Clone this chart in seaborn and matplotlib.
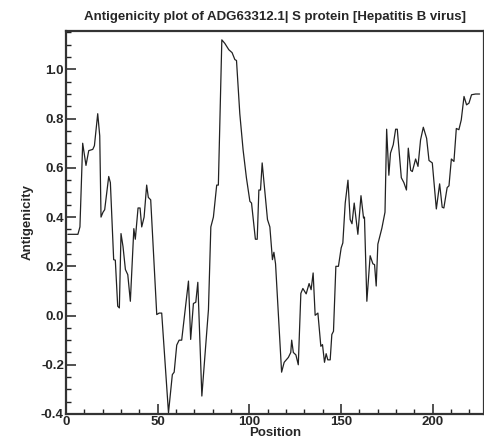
"""Antigenicity plot of HBV S protein, redrawn with seaborn"""
import numpy as np
import pandas as pd
import matplotlib
matplotlib.use("Agg")
import matplotlib.pyplot as plt
from matplotlib.ticker import MultipleLocator
import seaborn as sns

TITLE = "Antigenicity plot of ADG63312.1| S protein [Hepatitis B virus]"

# values (position, antigenicity)
position = [
    1, 6.5, 7.6, 9.1, 10.9, 12.4, 14.6, 15.5, 17.3, 18.4,
    19.1, 20.2, 21.1, 23.3, 24.2, 26, 26.9, 28.2, 29.1, 30,
    31.1, 32.4, 33.7, 35.1, 37, 37.8, 39.3, 40.4, 41.3, 42.6,
    44, 44.9, 46.2, 49.5, 50.8, 52.2, 55.9, 58, 59, 60.4,
    61.7, 63.1, 66.8, 68, 69.5, 70.8, 71.9, 74.1, 77.7, 79,
    80.4, 82.2, 83.1, 85, 86.6, 88.8, 90.6, 92.1, 93, 94.8,
    96.6, 98.4, 100.3, 101.2, 103.3, 104.3, 105.2, 106.1, 107, 109.9,
    111.2, 112.6, 113.4, 114.3, 117.6, 119, 121.3, 122.6, 123.1, 124,
    125.4, 126.7, 128.1, 129.2, 131, 132.6, 133.7, 134.8, 135.9, 137.4,
    139, 139.9, 141, 141.9, 142.8, 144.1, 145, 145.9, 147.2, 148.6,
    150.1, 151, 152.3, 153.8, 155, 156, 157.2, 159.2, 160.9, 162.3,
    162.8, 164.1, 165.9, 167.4, 168.3, 169.2, 170.1, 172.3, 174, 174.9,
    176.1, 177, 178.5, 179.8, 180.7, 182.9, 184.3, 185.7, 186.7, 188,
    188.9, 190.7, 192, 193.4, 194.9, 196.7, 198, 199.8, 202, 203.8,
    205.2, 206.1, 207.9, 208.9, 210.2, 211.6, 212.9, 214.3, 215.6, 217.1,
    218.5, 219.8, 221.2, 223.4, 225.6,
]
antigenicity = [
    0.33, 0.33, 0.36, 0.70, 0.61, 0.67, 0.675, 0.69, 0.82, 0.73,
    0.40, 0.42, 0.43, 0.565, 0.54, 0.227, 0.225, 0.038, 0.031, 0.333,
    0.28, 0.187, 0.166, 0.058, 0.353, 0.31, 0.437, 0.437, 0.36, 0.40,
    0.53, 0.48, 0.47, 0.004, 0.01, 0.01, -0.395, -0.24, -0.23, -0.12,
    -0.10, -0.10, 0.14, -0.097, 0.049, 0.054, 0.135, -0.327, 0.024, 0.36,
    0.40, 0.53, 0.53, 1.12, 1.106, 1.08, 1.068, 1.04, 1.036, 0.82,
    0.673, 0.56, 0.464, 0.457, 0.31, 0.31, 0.51, 0.51, 0.62, 0.39,
    0.36, 0.227, 0.257, 0.21, -0.23, -0.19, -0.17, -0.15, -0.10, -0.15,
    -0.16, -0.20, 0.09, 0.11, 0.088, 0.13, 0.105, 0.173, 0.001, 0.01,
    -0.125, -0.118, -0.19, -0.155, -0.18, -0.18, -0.077, -0.064, 0.20, 0.20,
    0.275, 0.295, 0.457, 0.55, 0.39, 0.373, 0.457, 0.33, 0.487, 0.396,
    0.40, 0.058, 0.243, 0.21, 0.207, 0.12, 0.29, 0.355, 0.42, 0.757,
    0.57, 0.66, 0.694, 0.757, 0.757, 0.56, 0.54, 0.51, 0.68, 0.59,
    0.585, 0.636, 0.606, 0.714, 0.765, 0.72, 0.63, 0.62, 0.433, 0.535,
    0.44, 0.437, 0.52, 0.527, 0.636, 0.626, 0.76, 0.755, 0.795, 0.89,
    0.856, 0.863, 0.897, 0.90, 0.90,
]

X_TICKS = [0, 50, 100, 150, 200]
Y_TICKS = [-0.4, -0.2, 0.0, 0.2, 0.4, 0.6, 0.8, 1.0]

df = pd.DataFrame({"Position": position, "Antigenicity": antigenicity})

sns.set_style("ticks")
plt.rcParams["font.family"] = ["Liberation Sans", "DejaVu Sans"]
plt.rcParams["font.weight"] = "bold"

fig = plt.figure(figsize=(4.84, 4.41), dpi=100)
ax = fig.add_axes([66 / 484, 1 - 414 / 441, 1 - 66 / 484, (414 - 31) / 441])

sns.lineplot(data=df, x="Position", y="Antigenicity", ax=ax, color="#222222",
             linewidth=0.9, sort=False)

ax.set_xlim(0, 228)
ax.set_ylim(-0.4, 1.156)
ax.xaxis.set_minor_locator(MultipleLocator(10))
ax.yaxis.set_minor_locator(MultipleLocator(0.05))
ax.set_xticks(X_TICKS)
ax.set_xticklabels([str(t) for t in X_TICKS])
ax.set_yticks(Y_TICKS)
ax.set_yticklabels([f"{t:.1f}" for t in Y_TICKS])

ax.tick_params(which="major", direction="in", length=7, width=1.1, labelsize=9.5, pad=1.5,
               color="#222222")
ax.tick_params(which="minor", direction="in", length=3.6, width=1.0, color="#222222")
ax.tick_params(axis="both", top=False, right=False, which="both")
for lab in ax.get_xticklabels() + ax.get_yticklabels():
    lab.set_fontweight("bold")

for side, sp in ax.spines.items():
    sp.set_visible(True)
    sp.set_linewidth(1.6)
    sp.set_color("#333333")

ax.set_xlabel("Position", fontsize=9.5, fontweight="bold", labelpad=-0.5)
ax.set_ylabel("Antigenicity", fontsize=9.5, fontweight="bold", labelpad=5)
ax.set_title(TITLE, fontsize=9.5, fontweight="bold", pad=8)

fig.savefig("out.png", dpi=100)
plt.close(fig)
